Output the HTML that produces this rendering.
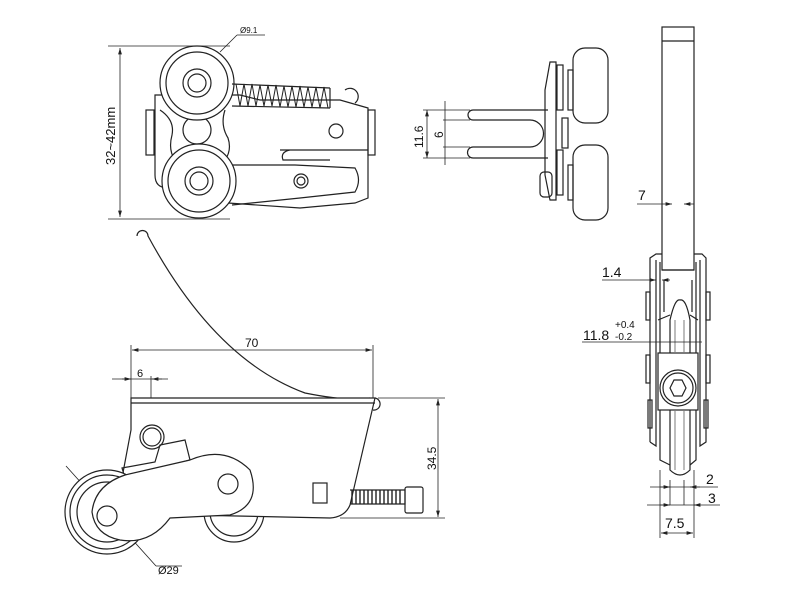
<!DOCTYPE html>
<html><head><style>body{margin:0;background:#fff}svg{display:block}text{font-family:"Liberation Sans",sans-serif;fill:#111;stroke:none}</style></head><body>
<svg width="800" height="600" viewBox="0 0 800 600" stroke="#222" fill="none" stroke-width="1.2">
<defs><marker id="a" viewBox="0 0 10 6" refX="10" refY="3" markerWidth="8" markerHeight="5" orient="auto-start-reverse"><path d="M0,0L10,3L0,6z" fill="#222" stroke="none"/></marker></defs>
<!-- TOP-LEFT VIEW -->
<g stroke-width="0.8">
<line x1="108" y1="46" x2="230" y2="46"/><line x1="108" y1="219" x2="230" y2="219"/>
<line x1="120" y1="48" x2="120" y2="217" marker-start="url(#a)" marker-end="url(#a)"/>
<line x1="220" y1="52" x2="237" y2="35"/><line x1="237" y1="35" x2="265" y2="35"/>
</g>
<text x="0" y="0" font-size="13" transform="translate(115,165) rotate(-90)">32~42mm</text>
<text x="240" y="33" font-size="8">Ø9.1</text>
<path d="M155,95 L155,175 Q155,188 168,188 L185,200 L300,208 L355,203 L368,198 L368,108 L340,100 L260,100 L240,95 Z"/>
<rect x="146" y="110" width="8" height="45"/>
<rect x="368" y="110" width="7" height="45"/>
<path d="M280,150 L368,150 M290,150 Q280,152 283,160 L330,160" />
<path d="M230,165 L295,165 L355,168 Q362,180 355,192 L300,198 L232,205"/>
<circle cx="301" cy="181" r="7"/><circle cx="301" cy="181" r="4"/>
<circle cx="336" cy="131" r="7"/>
<circle cx="197" cy="130" r="14"/>
<path d="M160,110 Q175,120 172,135 Q168,150 175,160 M225,110 Q220,125 228,138 Q232,150 225,160"/>
<circle cx="197" cy="83" r="37" fill="#fff"/><circle cx="197" cy="83" r="31"/><circle cx="197" cy="83" r="14"/><circle cx="197" cy="83" r="9"/>
<circle cx="199" cy="181" r="37" fill="#fff"/><circle cx="199" cy="181" r="31"/><circle cx="199" cy="181" r="14"/><circle cx="199" cy="181" r="9"/>
<path d="M232,84 L330,88 M232,106 L330,108 M330,88 L330,108" />
<path d="M236,84 L240,106 L244,84 L248,106 L252,84 L256,106 L260,85 L264,106 L268,85 L272,106 L276,85 L280,107 L284,86 L288,107 L292,86 L296,107 L300,86 L304,107 L308,87 L312,107 L316,87 L320,108 L324,87 L328,108" stroke-width="1"/>
<path d="M345,90 A8 8 0 1 1 355,103"/>
<!-- MIDDLE VIEW -->
<g stroke-width="0.8">
<line x1="423" y1="110" x2="470" y2="110"/><line x1="423" y1="158" x2="470" y2="158"/>
<line x1="427" y1="110" x2="427" y2="158" marker-start="url(#a)" marker-end="url(#a)"/>
<line x1="445" y1="101" x2="445" y2="165"/>
<line x1="443" y1="120" x2="470" y2="120"/><line x1="443" y1="147" x2="470" y2="147"/>
</g>
<text font-size="12" transform="translate(423,148) rotate(-90)">11.6</text>
<text font-size="12" transform="translate(443,138) rotate(-90)">6</text>
<path d="M548,110 L473,110 A5 5 0 0 0 473,120 L530,120 A13.5 13.5 0 0 1 530,147 L473,147 A5 5 0 0 0 473,158 L548,158"/>
<path d="M545,90 L550,62 L556,62 L556,200 L550,200 L545,175 Z"/>
<rect x="557" y="65" width="6" height="45"/><rect x="557" y="150" width="6" height="45"/>
<rect x="562" y="118" width="6" height="30"/>
<rect x="540" y="172" width="12" height="25" rx="4"/>
<rect x="568" y="70" width="5" height="40"/><rect x="568" y="165" width="5" height="35"/>
<rect x="573" y="48" width="35" height="75" rx="12"/>
<rect x="573" y="145" width="35" height="75" rx="12"/>
<!-- RIGHT VIEW -->
<rect x="662" y="27" width="32" height="243"/><line x1="662" y1="41" x2="694" y2="41"/>
<g stroke-width="0.8">
<line x1="637" y1="204" x2="662" y2="204"/>
<line x1="662" y1="204" x2="672" y2="204" marker-end="url(#a)"/>
<line x1="694" y1="204" x2="684" y2="204" marker-end="url(#a)"/>
</g>
<text x="638" y="200" font-size="14">7</text>
<path d="M650,442 L650,258 L656,254 L662,254 M694,254 L702,254 L706,258 L706,442 L700,446 L700,260 M650,442 L656,446 L656,260"/>
<line x1="662" y1="270" x2="694" y2="270"/>
<path d="M660,262 L660,410 M696,262 L696,410 M664,280 L664,312 M692,280 L692,312"/>
<rect x="646" y="292" width="4" height="28"/><rect x="706" y="292" width="4" height="28"/>
<rect x="646" y="355" width="4" height="28"/><rect x="706" y="355" width="4" height="28"/>
<rect x="648" y="400" width="4" height="28"/><rect x="704" y="400" width="4" height="28"/>
<path d="M670,470 L670,320 Q675,298 680,300 Q686,298 690,320 L690,470 Q680,480 670,470 Z"/>
<path d="M658,320 L670,315 M698,320 L690,315 M660,410 L660,460 L670,465 M696,410 L696,460 L690,465"/>
<rect x="658" y="353" width="40" height="57" fill="#fff"/>
<circle cx="678" cy="388" r="18"/><circle cx="678" cy="388" r="15"/>
<path d="M670,388 L674,380 L682,380 L686,388 L682,396 L674,396 Z"/>
<line x1="675" y1="320" x2="675" y2="352" stroke-width="0.6"/><line x1="684" y1="320" x2="684" y2="352" stroke-width="0.6"/>
<line x1="675" y1="411" x2="675" y2="470" stroke-width="0.6"/><line x1="684" y1="411" x2="684" y2="470" stroke-width="0.6"/>
<g stroke-width="0.8">
<line x1="602" y1="280" x2="640" y2="280"/><line x1="640" y1="280" x2="656" y2="280" marker-end="url(#a)"/><line x1="670" y1="280" x2="662" y2="280" marker-end="url(#a)"/>
<line x1="582" y1="342" x2="702" y2="342"/>
<line x1="650" y1="487" x2="718" y2="487"/><line x1="647" y1="505" x2="720" y2="505"/>
<line x1="660" y1="487" x2="670" y2="487" marker-end="url(#a)"/><line x1="700" y1="487" x2="690" y2="487" marker-end="url(#a)"/>
<line x1="660" y1="505" x2="670" y2="505" marker-end="url(#a)"/><line x1="698" y1="505" x2="694" y2="505" marker-end="url(#a)"/>
<line x1="660" y1="470" x2="660" y2="538"/><line x1="694" y1="470" x2="694" y2="538"/><line x1="670" y1="480" x2="670" y2="505"/><line x1="684" y1="480" x2="684" y2="505"/>
<line x1="661" y1="533" x2="693" y2="533" marker-start="url(#a)" marker-end="url(#a)"/>
</g>
<text x="602" y="277" font-size="14">1.4</text>
<text x="583" y="340" font-size="14">11.8</text><text x="615" y="328" font-size="10">+0.4</text><text x="615" y="340" font-size="10">-0.2</text>
<text x="706" y="484" font-size="14">2</text><text x="708" y="503" font-size="14">3</text>
<text x="665" y="528" font-size="14">7.5</text>
<!-- BOTTOM-LEFT VIEW -->
<g stroke-width="0.8">
<line x1="131" y1="345" x2="131" y2="398"/><line x1="373" y1="345" x2="373" y2="398"/>
<line x1="132" y1="350" x2="372" y2="350" marker-start="url(#a)" marker-end="url(#a)"/>
<line x1="112" y1="379" x2="168" y2="379"/><line x1="151" y1="376" x2="151" y2="437"/>
<line x1="122" y1="379" x2="131" y2="379" marker-end="url(#a)"/><line x1="162" y1="379" x2="152" y2="379" marker-end="url(#a)"/>
<line x1="378" y1="398" x2="445" y2="398"/><line x1="340" y1="518" x2="445" y2="518"/>
<line x1="438" y1="399" x2="438" y2="517" marker-start="url(#a)" marker-end="url(#a)"/>
<line x1="66" y1="466" x2="156" y2="566"/><line x1="156" y1="566" x2="182" y2="566"/>
</g>
<text x="245" y="347" font-size="12">70</text><text x="137" y="377" font-size="11">6</text>
<text font-size="12" transform="translate(436,470) rotate(-90)">34.5</text>
<text x="158" y="574" font-size="11">Ø29</text>
<path d="M137,236 A5 5 0 1 1 148,236 Q215,360 305,393 Q350,402 370,398"/>
<circle cx="234" cy="512" r="30" fill="#fff"/><circle cx="234" cy="512" r="24"/>
<path d="M131,398 L375,398 L350,505 Q345,517 330,518 L190,515 L170,470 L122,478 L131,430 Z" fill="#fff"/>
<line x1="131" y1="403" x2="375" y2="403"/>
<path d="M375,398 A5 5 0 0 1 373,410"/>
<circle cx="152" cy="437" r="12"/><circle cx="152" cy="437" r="9"/>
<path d="M122,468 L155,462 L160,445 L185,440 L190,460 L125,478 Z"/>
<path d="M350,490 L405,490 L405,504 L350,504" />
<path d="M352,490 L352,504 M356,490 L356,504 M360,490 L360,504 M364,490 L364,504 M368,490 L368,504 M372,490 L372,504 M376,490 L376,504 M380,490 L380,504 M384,490 L384,504 M388,490 L388,504 M392,490 L392,504 M396,490 L396,504 M400,490 L400,504" stroke-width="1.4"/>
<rect x="405" y="487" width="18" height="26" rx="2"/>
<rect x="313" y="483" width="14" height="20"/>
<circle cx="107" cy="512" r="42" fill="#fff"/><circle cx="107" cy="512" r="37"/><circle cx="107" cy="512" r="30"/>
<path d="M125,475 L190,460 Q225,445 250,470 Q262,505 230,515 L170,518 Q150,545 120,540 Q95,535 92,512 Q95,485 125,475 Z" fill="#fff"/>
<circle cx="107" cy="516" r="10"/><circle cx="228" cy="484" r="10"/>
</svg>
</body></html>
